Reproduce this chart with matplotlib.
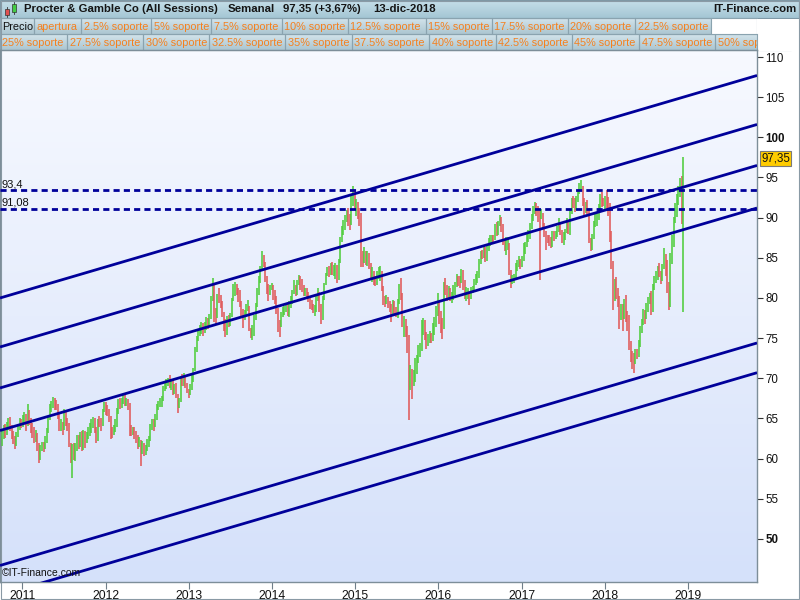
import matplotlib
matplotlib.use('Agg')
import matplotlib.pyplot as plt
import matplotlib.dates as mdates
import numpy as np
import pandas as pd
from datetime import datetime
from matplotlib.patches import Rectangle
from matplotlib.colors import LinearSegmentedColormap

plt.rcParams['font.family'] = ['Liberation Sans', 'DejaVu Sans']

# ---------------- DATA ----------------
title_name = "Procter & Gamble Co (All Sessions)"
title_period = "Semanal"
title_price = "97,35 (+3,67%)"
title_date = "13-dic-2018"
site_name = "IT-Finance.com"

legend_row1 = ['Precio', 'apertura', '2.5% soporte', '5% soporte', '7.5% soporte', '10% soporte',
               '12.5% soporte', '15% soporte', '17.5% soporte', '20% soporte', '22.5% soporte']
legend_row2 = ['25% soporte', '27.5% soporte', '30% soporte', '32.5% soporte', '35% soporte',
               '37.5% soporte', '40% soporte', '42.5% soporte', '45% soporte', '47.5% soporte', '50% soporte']

first_week = '2010-10-04'   # weekly bars (Mondays)

close = [
    # 2010
    62.8, 63.6, 63.2, 64.0,
    64.6, 63.8, 63.0, 62.3, 61.8,
    62.9, 63.9, 64.6, 64.3,
    # 2011
    64.9, 65.2, 64.3, 65.6, 64.8,
    64.0, 63.5, 62.8, 62.9,
    61.6, 60.3, 61.2, 61.6,
    61.5, 62.3, 63.4, 64.9,
    66.3, 66.7, 67.3, 66.9, 66.6,
    65.3, 63.9, 64.5, 63.7,
    65.8, 64.8, 64.3, 61.8,
    60.8, 61.2, 60.6, 61.4, 62.5,
    62.0, 62.9, 61.8, 63.3,
    62.4, 62.9, 63.3, 63.9, 64.3,
    64.7, 63.7, 62.4, 64.7,
    64.6, 64.3, 66.0, 66.7,
    # 2012
    66.3, 66.0, 65.0, 63.4, 63.3,
    63.8, 64.3, 66.0, 67.0,
    66.8, 67.2, 67.5, 67.1,
    67.2, 66.5, 63.9, 63.6, 63.6,
    63.4, 62.6, 62.2, 62.3,
    61.0, 61.7, 60.9, 61.2,
    61.8, 62.4, 63.9, 64.5, 64.1,
    65.0, 66.5, 66.8, 67.0,
    67.4, 68.6, 69.3, 69.4,
    69.6, 69.1, 69.3, 68.4, 68.9,
    67.8, 66.6, 67.2, 69.8,
    69.5, 70.0, 69.2, 68.5, 67.9,
    # 2013
    68.7, 70.0, 70.9, 73.6,
    74.9, 75.8, 76.0, 76.6,
    76.1, 76.4, 77.0, 76.9,
    77.6, 79.8, 81.7, 78.0, 77.8,
    80.0, 79.9, 79.4, 77.9,
    76.8, 76.0, 77.3, 77.1,
    77.6, 79.7, 81.3, 81.4, 80.9,
    80.6, 79.3, 78.3, 77.6,
    78.2, 78.8, 79.2, 76.1, 75.6,
    75.9, 77.6, 79.0, 80.8,
    82.3, 83.6, 85.3, 84.4,
    82.3, 81.2, 80.7, 81.4, 81.4,
    # 2014
    80.5, 79.9, 78.7, 76.9,
    76.0, 77.9, 78.5, 78.7,
    79.0, 78.2, 79.2, 79.7, 80.6,
    81.4, 80.5, 81.8, 82.6,
    81.9, 81.3, 80.9, 80.9,
    80.6, 79.7, 79.2, 79.1, 78.6,
    78.6, 79.8, 80.5, 80.3,
    77.8, 79.8, 81.6, 82.8,
    83.6, 83.0, 84.2, 83.3, 83.7,
    83.7, 82.6, 84.5, 87.2,
    88.6, 89.0, 90.0, 90.5,
    89.9, 89.7, 92.0, 93.1, 91.3,
    # 2015
    91.5, 90.6, 90.0, 85.1,
    84.9, 85.4, 84.8, 85.4,
    84.1, 82.6, 83.1, 82.2, 82.0,
    82.8, 82.9, 82.9, 81.4,
    79.8, 79.7, 80.0, 79.2,
    79.0, 78.4, 79.3, 78.6, 78.2,
    79.6, 81.4, 80.3, 76.7,
    77.5, 76.0, 75.2, 70.3, 70.8,
    69.8, 70.2, 71.1, 71.8,
    73.5, 73.8, 76.5, 76.7,
    75.6, 74.3, 75.0, 75.3, 74.9,
    76.4, 76.6, 78.1, 79.4,
    # 2016
    77.8, 76.4, 76.0, 81.7,
    81.3, 80.6, 81.0, 80.2, 80.3,
    81.2, 81.6, 82.5, 82.3,
    82.2, 82.9, 82.0, 80.6,
    80.6, 80.7, 80.0, 81.1, 81.2,
    82.0, 82.4, 83.0, 84.7,
    85.4, 85.3, 85.9, 85.1,
    86.0, 86.9, 87.3, 87.6, 87.3,
    88.8, 88.0, 89.4, 89.9,
    88.8, 87.0, 86.2, 86.7, 86.8,
    83.2, 82.1, 82.5, 82.5,
    83.6, 84.2, 84.3, 84.1,
    # 2017
    84.8, 86.2, 86.6, 87.6, 87.7,
    88.9, 90.0, 91.1, 91.3,
    91.2, 90.2, 89.8, 90.0,
    89.0, 87.9, 87.5, 87.4,
    87.1, 86.8, 87.9, 87.6, 88.0,
    88.5, 88.9, 88.3, 87.2,
    87.8, 88.3, 89.4, 88.6, 90.8,
    92.1, 91.8, 91.6, 92.3,
    93.0, 93.8, 94.0, 91.8,
    90.7, 91.6, 90.9, 87.2, 86.4,
    87.6, 89.1, 89.6, 90.2,
    91.0, 92.7, 92.0, 91.9,
    # 2018
    92.2, 91.5, 91.3, 87.5, 84.2,
    80.1, 81.8, 80.4, 79.5,
    77.8, 78.5, 77.9, 79.3,
    77.8, 77.0, 74.3, 72.7, 72.5,
    72.3, 73.1, 73.0, 74.2,
    76.1, 76.8, 78.2, 77.9,
    79.0, 79.5, 80.0, 78.9, 81.4,
    82.3, 82.8, 83.6, 83.1,
    82.5, 83.9, 85.3, 83.2,
    81.7, 79.7, 84.6, 87.3, 89.6,
    91.2, 92.4, 93.0, 94.6,
    93.9, 97.35,
]

high = [
    # 2010
    63.4, 64.2, 64.3, 64.6,
    65.0, 65.2, 64.2, 63.5, 62.8,
    63.3, 64.3, 65.0, 64.9,
    # 2011
    65.4, 65.8, 65.6, 66.8, 66.0,
    65.0, 64.4, 63.9, 63.6,
    63.2, 62.0, 61.7, 62.1,
    62.1, 62.8, 63.8, 65.3,
    66.8, 67.2, 67.7, 67.6, 67.3,
    66.8, 65.6, 64.9, 64.6,
    66.2, 66.0, 65.1, 64.5,
    62.0, 61.8, 62.0, 61.9, 62.9,
    63.0, 63.3, 63.4, 63.6,
    63.5, 63.3, 64.0, 64.4, 64.9,
    65.2, 65.1, 63.9, 64.9,
    65.3, 65.1, 66.2, 67.0,
    # 2012
    67.0, 66.7, 66.2, 65.3, 64.0,
    64.2, 64.9, 66.3, 67.4,
    67.5, 67.6, 67.9, 67.9,
    67.6, 67.4, 66.9, 64.2, 64.0,
    64.0, 63.5, 62.9, 62.7,
    62.3, 62.2, 61.9, 61.7,
    62.4, 62.8, 64.3, 64.9, 64.9,
    65.5, 66.8, 67.2, 67.5,
    67.8, 69.0, 69.6, 69.9,
    70.0, 70.4, 69.9, 69.8, 69.3,
    69.4, 68.0, 67.5, 70.1,
    70.5, 70.7, 70.4, 69.4, 68.7,
    # 2013
    69.3, 70.4, 71.3, 73.9,
    75.3, 76.1, 76.6, 77.0,
    76.9, 77.0, 77.6, 77.5,
    78.0, 80.3, 82.5, 81.9, 78.8,
    80.5, 81.2, 80.4, 79.6,
    78.3, 77.4, 77.7, 77.9,
    78.1, 80.0, 81.7, 82.0, 81.7,
    81.2, 81.0, 79.6, 78.6,
    78.5, 79.3, 79.8, 79.0, 76.3,
    76.6, 77.9, 79.4, 81.2,
    82.8, 84.0, 85.8, 85.4,
    84.5, 82.8, 81.8, 81.6, 81.9,
    # 2014
    81.6, 81.0, 80.2, 78.8,
    77.3, 78.2, 78.9, 79.0,
    79.4, 79.3, 79.6, 80.2, 81.0,
    82.3, 81.6, 82.2, 82.9,
    82.8, 82.4, 81.6, 81.3,
    81.3, 80.8, 80.0, 79.8, 79.3,
    79.1, 80.3, 81.3, 80.8,
    79.3, 80.2, 81.9, 83.1,
    83.9, 84.0, 84.4, 84.5, 84.1,
    84.3, 84.1, 84.9, 87.6,
    89.0, 89.7, 90.3, 91.0,
    91.2, 90.5, 92.7, 93.9, 93.4,
    # 2015
    92.3, 92.0, 91.2, 90.6,
    85.8, 86.3, 85.9, 85.9,
    85.6, 84.3, 83.8, 83.4, 82.8,
    83.3, 83.9, 84.0, 83.3,
    81.5, 80.3, 80.4, 80.1,
    79.6, 79.3, 79.7, 79.6, 78.9,
    79.9, 81.7, 82.5, 80.6,
    77.8, 77.4, 76.5, 75.4, 71.6,
    71.1, 71.0, 72.5, 72.9,
    74.2, 74.4, 77.3, 77.5,
    77.3, 75.8, 75.5, 75.9, 75.6,
    76.9, 77.6, 79.0, 80.6,
    # 2016
    79.6, 78.4, 77.5, 82.0,
    82.5, 81.6, 81.5, 81.3, 80.8,
    81.6, 82.0, 83.0, 82.8,
    82.7, 83.6, 83.5, 82.2,
    81.4, 81.3, 80.8, 81.4, 81.5,
    82.4, 83.0, 83.4, 84.9,
    85.9, 86.0, 86.4, 86.3,
    86.5, 87.5, 87.8, 87.9, 87.8,
    89.2, 89.5, 89.6, 90.3,
    90.1, 89.2, 87.4, 87.6, 87.6,
    86.9, 83.5, 82.9, 83.0,
    84.3, 84.7, 85.2, 84.9,
    # 2017
    85.2, 86.8, 87.0, 88.1, 88.5,
    89.3, 90.4, 91.5, 91.9,
    91.8, 91.5, 90.9, 91.1,
    90.6, 89.3, 88.3, 87.9,
    87.9, 87.6, 88.4, 88.4, 88.4,
    88.9, 90.0, 89.5, 88.5,
    88.2, 88.6, 90.0, 89.6, 91.0,
    92.4, 92.7, 92.5, 92.7,
    93.3, 94.3, 94.7, 94.0,
    92.4, 91.9, 92.2, 91.2, 87.5,
    88.0, 89.6, 90.4, 90.7,
    91.7, 93.0, 93.2, 92.4,
    # 2018
    92.7, 93.4, 92.6, 91.8, 88.3,
    84.6, 82.4, 82.6, 81.3,
    80.2, 79.3, 79.2, 79.9,
    80.4, 78.4, 77.9, 74.7, 73.4,
    73.2, 73.7, 73.6, 74.8,
    76.5, 77.4, 78.6, 78.5,
    79.4, 80.1, 80.6, 80.9, 81.8,
    82.8, 83.4, 84.0, 84.3,
    83.4, 84.2, 86.2, 85.5,
    84.7, 82.0, 85.6, 87.8, 90.1,
    91.8, 92.9, 93.9, 94.9,
    95.2, 97.5,
]

low = [
    # 2010
    61.6, 62.5, 62.6, 63.0,
    63.6, 63.4, 62.5, 61.8, 61.2,
    61.6, 62.7, 63.6, 63.8,
    # 2011
    63.9, 64.3, 63.5, 64.1, 64.2,
    63.2, 62.6, 62.0, 62.1,
    61.0, 59.4, 59.8, 60.9,
    60.8, 61.2, 61.9, 63.2,
    64.8, 65.8, 66.3, 66.0, 66.0,
    64.9, 63.4, 63.5, 62.9,
    63.6, 64.1, 63.5, 61.5,
    59.5, 57.6, 59.8, 59.7, 61.0,
    61.2, 61.5, 61.0, 61.1,
    61.3, 62.0, 62.4, 62.8, 63.2,
    63.8, 63.2, 61.9, 62.2,
    63.9, 63.4, 64.1, 65.8,
    # 2012
    65.4, 65.3, 64.6, 62.5, 62.6,
    62.9, 63.3, 64.0, 65.6,
    66.2, 66.3, 66.8, 66.5,
    66.6, 66.0, 62.8, 62.8, 62.9,
    62.5, 62.0, 61.2, 61.5,
    59.1, 60.6, 60.3, 60.4,
    60.9, 61.4, 62.2, 63.6, 63.5,
    63.9, 64.8, 66.1, 66.4,
    66.4, 67.2, 68.4, 68.7,
    69.0, 68.8, 68.6, 67.9, 68.1,
    67.5, 65.7, 66.3, 67.1,
    69.1, 69.0, 68.8, 68.2, 67.5,
    # 2013
    67.9, 68.5, 69.5, 70.9,
    73.3, 74.6, 75.3, 75.5,
    75.3, 75.7, 76.0, 76.2,
    76.4, 77.4, 79.6, 77.0, 76.8,
    77.5, 79.4, 78.8, 77.6,
    75.9, 75.1, 75.4, 76.4,
    76.5, 77.6, 79.6, 80.3, 80.4,
    79.5, 78.9, 77.8, 76.3,
    77.2, 78.0, 78.4, 75.9, 75.0,
    74.8, 75.3, 77.3, 78.9,
    80.4, 81.9, 83.4, 83.9,
    82.0, 80.5, 79.6, 80.4, 81.0,
    # 2014
    79.8, 79.2, 78.0, 75.8,
    75.2, 76.4, 77.6, 77.9,
    78.3, 77.8, 77.6, 78.8, 79.3,
    80.5, 80.2, 80.4, 81.6,
    81.0, 80.8, 80.2, 80.2,
    80.0, 79.5, 78.6, 78.5, 78.1,
    77.8, 78.3, 79.6, 78.2,
    76.8, 77.3, 79.7, 81.6,
    82.7, 82.6, 82.9, 82.9, 82.8,
    82.4, 81.9, 82.3, 84.4,
    87.0, 87.9, 88.5, 89.5,
    88.9, 88.5, 89.1, 91.4, 91.0,
    # 2015
    90.2, 89.8, 89.0, 83.8,
    83.9, 84.3, 84.1, 84.0,
    83.6, 82.2, 82.0, 81.6, 81.5,
    81.6, 82.4, 82.1, 80.9,
    79.1, 78.9, 79.3, 78.7,
    78.3, 77.0, 78.0, 78.0, 77.6,
    77.5, 79.3, 79.8, 76.4,
    75.2, 75.2, 73.1, 64.8, 68.5,
    67.4, 69.1, 69.5, 70.6,
    71.9, 72.6, 73.4, 75.4,
    74.8, 73.7, 74.0, 74.4, 74.4,
    74.6, 75.4, 76.4, 77.8,
    # 2016
    76.8, 75.6, 74.9, 76.2,
    80.4, 79.6, 79.9, 79.6, 79.4,
    79.8, 80.4, 81.4, 81.5,
    81.3, 81.9, 81.0, 79.9,
    79.6, 79.9, 79.1, 79.9, 80.6,
    80.8, 81.6, 81.9, 82.5,
    84.2, 84.8, 85.0, 84.5,
    84.6, 85.8, 86.5, 86.8, 86.8,
    87.2, 87.7, 87.8, 89.0,
    88.2, 86.6, 85.9, 85.4, 86.0,
    82.9, 81.2, 81.7, 81.9,
    82.2, 83.3, 83.8, 83.6,
    # 2017
    83.9, 84.6, 85.5, 86.4, 87.0,
    87.3, 88.6, 89.6, 90.5,
    90.2, 89.5, 82.3, 89.8,
    88.7, 87.6, 86.0, 86.8,
    86.5, 86.2, 86.4, 87.1, 87.3,
    87.6, 88.2, 87.9, 86.8,
    86.6, 87.2, 88.1, 88.0, 87.9,
    90.5, 91.2, 90.7, 91.0,
    91.9, 92.9, 93.3, 91.4,
    90.3, 90.6, 90.4, 86.8, 85.8,
    86.0, 87.4, 88.8, 89.0,
    89.7, 90.8, 91.3, 91.5,
    # 2018
    91.1, 90.8, 90.2, 87.0, 83.6,
    78.5, 79.6, 79.9, 78.9,
    76.2, 77.3, 75.9, 77.4,
    77.0, 75.9, 73.5, 72.0, 71.2,
    70.7, 71.8, 72.4, 72.6,
    73.9, 75.6, 76.6, 76.8,
    77.4, 78.3, 79.2, 77.9, 78.2,
    81.0, 81.9, 82.3, 82.6,
    81.7, 82.1, 83.6, 82.8,
    80.6, 78.5, 78.9, 84.2, 86.4,
    89.3, 90.1, 91.6, 92.6,
    89.2, 78.2,
]

# regression channel lines (value at left edge / right edge of the chart window)
channel_window = ['2010-09-25', '2019-10-30']
channel_left = [80.0, 73.9, 68.8, 63.5, 46.7, 43.0]
channel_right = [107.7, 101.6, 96.5, 91.2, 74.4, 70.7]

level_values = [93.4, 91.08]
level_labels = ['93,4', '91,08']

last_price = 97.35
last_label = '97,35'

y_ticks = list(range(50, 111, 5))
year_ticks = list(range(2011, 2020))

# ---------------- STYLE / LAYOUT ----------------
W, H = 800, 600
PLOT_L, PLOT_R, PLOT_T, PLOT_B = 0, 757, 50, 582
row1_edges = [0, 34, 81, 151, 211, 282, 348, 426, 492, 568, 635, 711]
row2_edges = [0, 67, 143, 209, 285, 352, 429, 496, 572, 639, 715, 791]
NAVY = '#00009a'
UP = '#4fcd3c'
DOWN = '#e05a5a'
ORANGE = '#f5801e'

fig = plt.figure(figsize=(8, 6), dpi=100)
fig.patch.set_facecolor('white')

bg = fig.add_axes([0, 0, 1, 1])
bg.set_zorder(0)
bg.axis('off')


def vgrad(x0, x1, y0, y1, c0, c1, z=0):
    cmap = LinearSegmentedColormap.from_list('g', [c0, c1])
    bg.imshow(np.linspace(0, 1, 64).reshape(-1, 1), cmap=cmap, extent=(x0, x1, y1, y0),
              aspect='auto', origin='upper', interpolation='bilinear', zorder=z)


# plot background gradient
vgrad(PLOT_L, PLOT_R, PLOT_T, PLOT_B, '#f7f9ff', '#d5e1fa')
# header
vgrad(0, W, 0, 18, '#c6dfe9', '#a4c6d4')
bg.add_patch(Rectangle((0, 0), W - 1, 18, fill=False, ec='#7f98a6', lw=0.8, zorder=2))
# candle icon
bg.add_patch(Rectangle((4.5, 9), 4, 6, fc='#e05050', ec='#333333', lw=0.5, zorder=3))
bg.plot([6.5, 6.5], [7, 17], color='#333333', lw=0.6, zorder=2)
bg.add_patch(Rectangle((11.5, 4), 4, 8, fc='#44cc44', ec='#333333', lw=0.5, zorder=3))
bg.plot([13.5, 13.5], [1.5, 14], color='#333333', lw=0.6, zorder=2)

hdr_kw = dict(va='center', ha='left', fontsize=8.2, fontweight='bold', color='#151515', zorder=4)
bg.text(24, 9.5, title_name, **hdr_kw)
bg.text(228, 9.5, title_period, **hdr_kw)
bg.text(283, 9.5, title_price, **hdr_kw)
bg.text(373, 9.5, title_date, **hdr_kw)
bg.text(797, 9.5, site_name, va='center', ha='right', fontsize=8.2, fontweight='bold',
        color='#151515', zorder=4)

# legend rows
for labels, edges, y0 in [(legend_row1, row1_edges, 18), (legend_row2, row2_edges, 34)]:
    for i, lab in enumerate(labels):
        x0, x1 = edges[i], edges[i + 1]
        vgrad(x0, x1, y0, y0 + 16, '#d3e4eb', '#acc6d1', z=1)
        bg.add_patch(Rectangle((x0, y0), x1 - x0, 16, fill=False, ec='#8aa3af', lw=0.8, zorder=2))
        bg.text(x0 + 2.5, y0 + 8.5, lab, va='center', ha='left', fontsize=7.8,
                color='#111111' if lab == 'Precio' else ORANGE, zorder=3)
# white area right of the legend cells (covers overflow)
bg.add_patch(Rectangle((711, 18), 46, 16, fc='white', ec='#8aa3af', lw=0.8, zorder=4))
bg.add_patch(Rectangle((PLOT_R, 18.5), W - PLOT_R, 32, fc='white', ec='none', zorder=4))
bg.plot([PLOT_R, PLOT_R], [34, 50], color='#8aa3af', lw=0.8, zorder=5)

# outer frame
bg.add_patch(Rectangle((0.5, 0.5), W - 2, H - 2, fill=False, ec='#8a9aa5', lw=0.8, zorder=6))
bg.set_xlim(0, W)
bg.set_ylim(H, 0)

# ---------------- MAIN CHART ----------------
ax = fig.add_axes([PLOT_L / W, (H - PLOT_B) / H, (PLOT_R - PLOT_L) / W, (PLOT_B - PLOT_T) / H])
ax.set_zorder(1)
ax.patch.set_visible(False)

n = len(close)
dates = pd.date_range(first_week, periods=n, freq='W-MON')
xd = mdates.date2num(dates.to_pydatetime())
prev = [close[0]] + close[:-1]
cols = [UP if c >= p else DOWN for c, p in zip(close, prev)]
ax.vlines(xd, low, high, colors=cols, linewidth=1.15, zorder=2)

cw = mdates.date2num([datetime.fromisoformat(d) for d in channel_window])
for l, r in zip(channel_left, channel_right):
    ax.plot(cw, [l, r], color=NAVY, lw=2.0, solid_capstyle='butt', zorder=3)

for v, lab in zip(level_values, level_labels):
    ax.axhline(v, color=NAVY, lw=2.0, linestyle=(0, (2.2, 1.5)), zorder=3)
    ax.text(0.002, v + 0.15, lab, transform=ax.get_yaxis_transform(), ha='left', va='bottom',
            fontsize=8, color='#111111', zorder=4)

ax.set_xlim(cw[0], cw[1])
ax.set_ylim(50 - (PLOT_B - 539) / 8.03, 110 + (57 - PLOT_T) / 8.03)

ax.yaxis.tick_right()
ax.set_yticks(y_ticks)
ax.set_yticklabels([str(v) for v in y_ticks])
for lbl, v in zip(ax.get_yticklabels(), y_ticks):
    if v % 50 == 0:
        lbl.set_fontweight('bold')
        lbl.set_fontsize(9)
ax.tick_params(axis='y', direction='out', length=4, width=0.8, pad=2, labelsize=8.3,
               color='#333333', labelcolor='#111111')

xt = mdates.date2num([datetime(y, 1, 1) for y in year_ticks])
ax.set_xticks(xt)
ax.set_xticklabels([str(y) for y in year_ticks])
ax.tick_params(axis='x', direction='out', length=5, width=0.8, pad=0.5, labelsize=8.8,
               color='#6f7f8a', labelcolor='#111111')

for s in ax.spines.values():
    s.set_color('#7d8e99')
    s.set_linewidth(1.0)

ax.annotate(last_label, xy=(1.0, last_price), xycoords=ax.get_yaxis_transform(),
            xytext=(3, 0), textcoords='offset points', ha='left', va='center', fontsize=8.3,
            color='#111111', annotation_clip=False,
            bbox=dict(boxstyle='square,pad=0.12', fc='#ffcc00', ec='#7a7a7a', lw=0.8), zorder=6)

ax.text(0.003, 0.008, '©' + site_name, transform=ax.transAxes, ha='left', va='bottom',
        fontsize=7.5, color='#111111', zorder=4)

fig.savefig('out.png', dpi=100)
